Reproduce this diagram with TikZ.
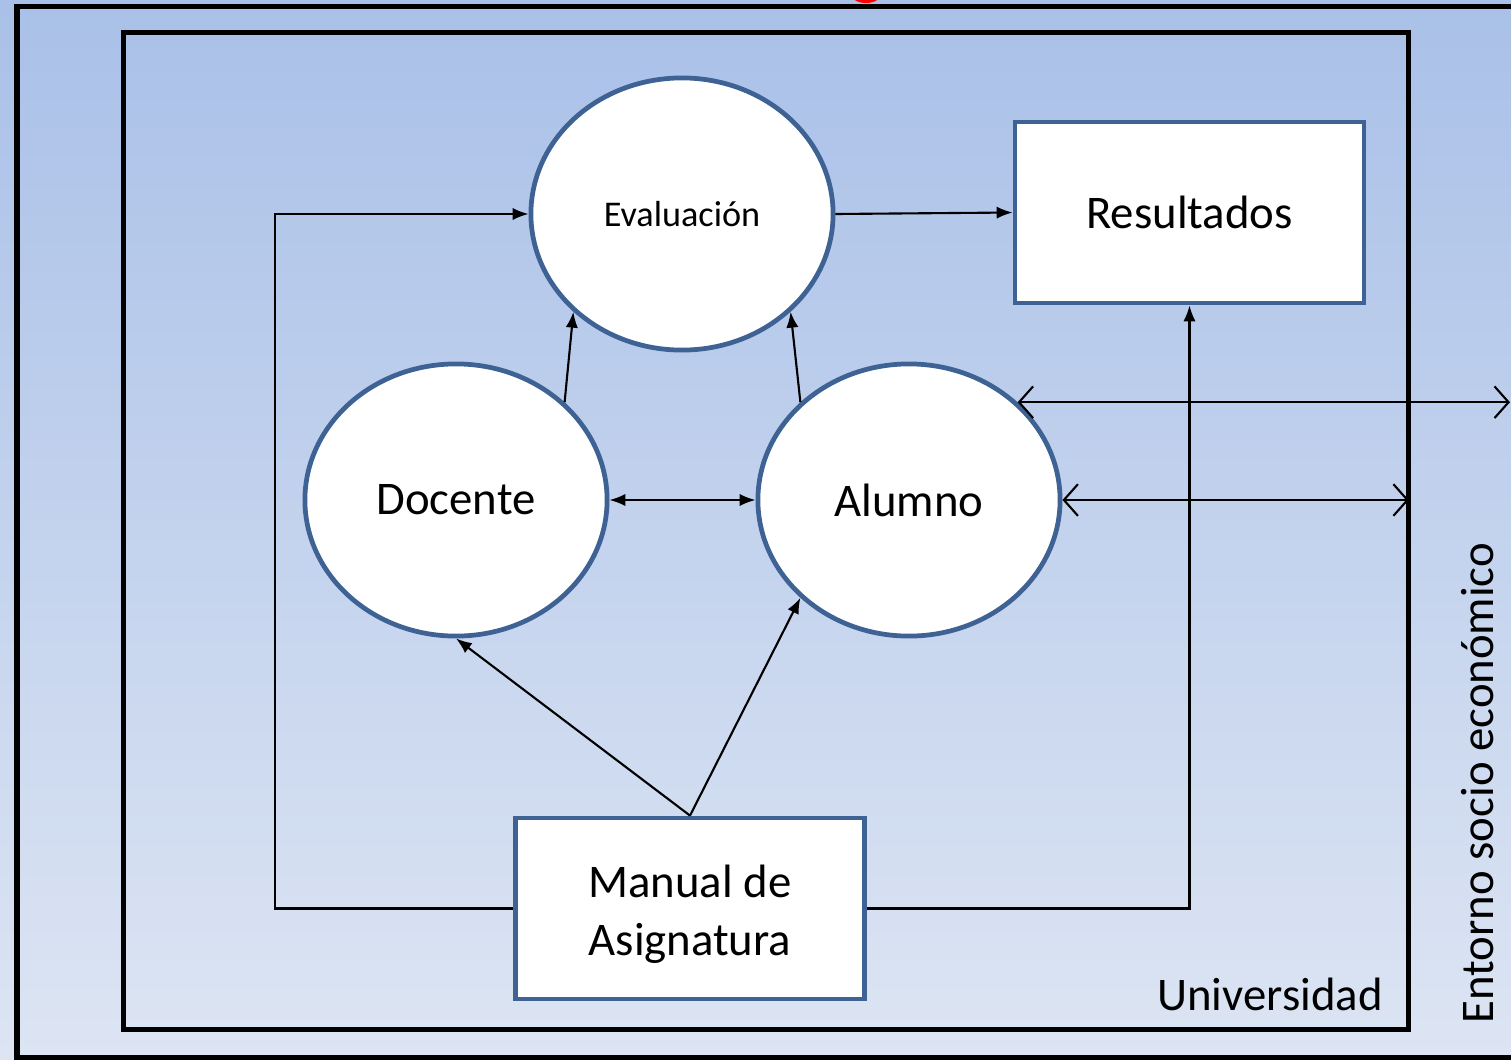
\documentclass[tikz,border=0pt]{standalone}
\usepackage{fontspec}
\setmainfont{Carlito}
\usetikzlibrary{shapes.geometric,arrows.meta}

\definecolor{bgtop}{RGB}{169,192,232}
\definecolor{bgbottom}{RGB}{221,229,243}
\definecolor{edgeblue}{RGB}{62,98,148}

\begin{document}
\begin{tikzpicture}[x=0.01cm,y=-0.01cm]
        % Define styles
        \tikzset{
            actor/.style={ellipse, draw=edgeblue, line width=1.35pt, fill=white, minimum width=3.02cm, minimum height=2.72cm, inner sep=0pt, font=\fontsize{13.3}{16}\selectfont},
            block/.style={rectangle, draw=edgeblue, line width=1.35pt, fill=white, minimum width=3.49cm, minimum height=1.81cm, align=center, font=\fontsize{13.3}{16.6}\selectfont},
            frame/.style={rectangle, draw=black, line width=1.45pt, inner sep=0pt, outer sep=0pt},
            caption/.style={font=\fontsize{13.3}{16}\selectfont},
            arrow/.style={-{Latex[length=4.5pt,width=3.5pt]}, line width=0.6pt},
            twoway/.style={{Latex[length=4.5pt,width=3.5pt]}-{Latex[length=4.5pt,width=3.5pt]}, line width=0.6pt},
            exchange/.style={{Straight Barb[length=4pt,width=9pt]}-{Straight Barb[length=4pt,width=9pt]}, line width=0.6pt}
        }

        % Background
        \useasboundingbox (0,0) rectangle (1511,1060);
        \shade[top color=bgtop, bottom color=bgbottom] (0,0) rectangle (1511,1060);
        \fill[red] (866,-6) ellipse (15 and 9);
        \draw[line width=1.45pt] (17,6.5) rectangle (1540,1057.5);

        % Nodes
        \node[frame] (univ) at (766,531) [minimum width=12.85cm, minimum height=9.97cm] {};
        \node[actor, font=\fontsize{10.3}{12}\selectfont] (eval) at (682,214) {Evaluación};
        \node[block] (result) at (1189.5,212.5) {Resultados};
        \node[actor] (docente) at (456,500) {Docente};
        \node[actor] (alumno) at (909,500) {Alumno};
        \node[block, label={[align=center, font=\fontsize{13.3}{16.6}\selectfont, yshift=-1.7pt]center:Manual de\\Asignatura}] (manual) at (690,908.5) {};
        \coordinate (edge) at (1510,0);

        % Labels
        \node[caption] (univlabel) at (1270,994) {Universidad};
        \node[caption, rotate=90] (entorno) at (1478,783) {Entorno socio económico};

        % Arrows
        \draw[arrow] (manual.west) -- ++(-238,0) |- (eval.west);
        \draw[arrow] (manual.east) -| (result.south);
        \draw[arrow] (eval.east) -- (result.west);
        \draw[arrow] (docente.42) -- (eval.222);
        \draw[arrow] (alumno.138) -- (eval.318);
        \draw[twoway] (docente.east) -- (alumno.west);
        \draw[arrow] (manual.north) -- (docente.south);
        \draw[arrow] (manual.north) -- (alumno.222);
        \draw[exchange] (alumno.42) -- (alumno.42 -| edge);
        \draw[exchange] (alumno.east) -- (alumno.east -| univ.east);
    \end{tikzpicture}
\end{document}
